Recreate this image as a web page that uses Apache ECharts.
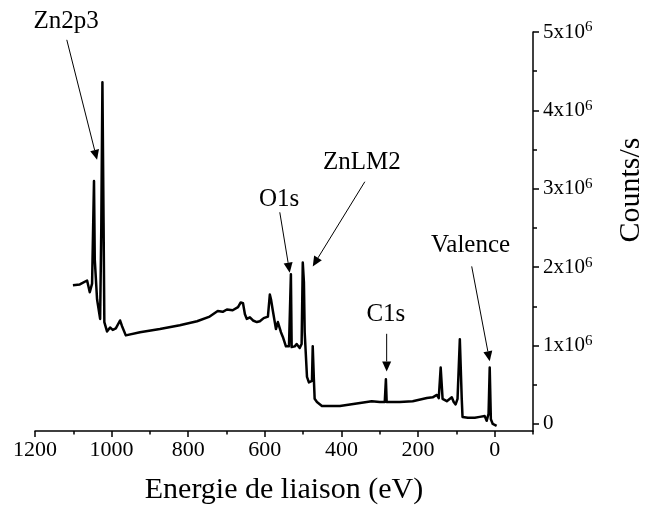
<!DOCTYPE html>
<html><head><meta charset="utf-8">
<script src="https://cdn.jsdelivr.net/npm/echarts@6/dist/echarts.min.js"></script>
<style>html,body{margin:0;padding:0;background:#fff}#c{width:652px;height:513px}</style>
</head><body><div id="c"></div>
<script>
// Binding energy (eV)
const energy = [1101,1083,1064,1057,1051,1046,1044,1038,1030,1027,1024,1021,1019,1012,1004,997,989,978,973,963,926,874,822,777,744,723,710,699,684,670,663,657,652,647,639,631,621,613,603,592,587,584,579,571,566,558,553,545,540,537,532,530,522,517,509,504,501,498,496,490,485,477,475,472,470,464,451,404,334,321,300,287,284,282,248,214,177,162,151,146,141,136,125,112,107,102,97,91,86,84,70,52,39,26,21,16,13,10,5,0,-5];
// Counts/s in units of 1e6
const countsM = [1.77,1.78,1.83,1.68,1.79,3.10,2.10,1.59,1.34,2.48,4.36,2.57,1.30,1.18,1.23,1.20,1.22,1.32,1.25,1.13,1.17,1.21,1.26,1.31,1.37,1.44,1.43,1.46,1.45,1.49,1.55,1.54,1.40,1.34,1.36,1.32,1.30,1.31,1.35,1.37,1.65,1.59,1.44,1.21,1.30,1.17,1.11,0.99,0.97,0.99,1.91,0.98,0.99,1.02,0.97,1.02,2.06,1.81,1.17,0.60,0.53,0.55,0.99,0.57,0.32,0.28,0.23,0.23,0.28,0.29,0.28,0.28,0.57,0.28,0.28,0.29,0.33,0.34,0.37,0.33,0.72,0.32,0.29,0.34,0.28,0.25,0.32,1.08,0.32,0.09,0.08,0.08,0.09,0.10,0.04,0.13,0.72,0.06,0.00,-0.01,-0.025];
const xMajorTicks = [0,200,400,600,800,1000,1200];
const xMinorTicks = [-100,100,300,500,700,900,1100];
const yMajorTicks = [0,1e6,2e6,3e6,4e6,5e6];
const yMinorTicks = [0.5e6,1.5e6,2.5e6,3.5e6,4.5e6];
const xTitle = 'Energie de liaison (eV)';
const yTitle = 'Counts/s';
// annotation labels: text anchor, arrow start, arrow tip (data coords: eV, counts)
const annLabels = ['Zn2p3','O1s','ZnLM2','C1s','Valence'];
const annText = [[1119,5.13e6],[563,2.86e6],[347,3.33e6],[284,1.40e6],[63,2.28e6]];
const annFrom = [[1117,4.90e6],[561,2.70e6],[339,3.09e6],[282,1.15e6],[60,2.01e6]];
const annTo   = [[1038,3.37e6],[535,1.93e6],[475,2.01e6],[282,0.67e6],[13,0.80e6]];

const FONT = '"Liberation Serif", "DejaVu Serif", serif';
const seriesData = energy.map((e,i)=>[e, countsM[i]*1e6]);

const chart = echarts.init(document.getElementById('c'));
const option = {
  animation:false,
  backgroundColor:'#fff',
  grid:{left:35,right:119,top:32,bottom:82,containLabel:false},
  xAxis:[{
    type:'value', min:-100, max:1200, inverse:true, position:'bottom',
    axisLine:{onZero:false,lineStyle:{color:'#000',width:1.5}},
    axisTick:{show:true,inside:false,length:6,customValues:xMajorTicks,lineStyle:{color:'#000',width:1.5}},
    axisLabel:{customValues:xMajorTicks,margin:8,color:'#000',fontFamily:FONT,fontSize:22,formatter:v=>String(v)},
    splitLine:{show:false},
    name:xTitle,nameLocation:'middle',nameGap:44,
    nameTextStyle:{color:'#000',fontFamily:FONT,fontSize:30}
  },{
    type:'value', min:-100, max:1200, inverse:true, position:'bottom',
    axisLine:{show:false,onZero:false},
    axisTick:{show:true,length:3.5,customValues:xMinorTicks,lineStyle:{color:'#000',width:1.5}},
    axisLabel:{show:false},splitLine:{show:false}
  }],
  yAxis:[{
    type:'value', min:-0.09e6, max:5e6, position:'right',
    axisLine:{onZero:false,lineStyle:{color:'#000',width:1.5}},
    axisTick:{show:true,length:6,customValues:yMajorTicks,lineStyle:{color:'#000',width:1.5}},
    axisLabel:{customValues:yMajorTicks,margin:10,color:'#000',fontFamily:FONT,fontSize:21,
      formatter:v=> v===0 ? '{b|0}' : '{b|'+Math.round(v/1e6)+'x10}{s|6}',
      rich:{b:{fontFamily:FONT,fontSize:21,color:'#000',lineHeight:24},
            s:{fontFamily:FONT,fontSize:15,color:'#000',lineHeight:15,verticalAlign:'top'}}},
    splitLine:{show:false}
  },{
    type:'value', min:-0.09e6, max:5e6, position:'right',
    axisLine:{show:false,onZero:false},
    axisTick:{show:true,length:4,customValues:yMinorTicks,lineStyle:{color:'#000',width:1.5}},
    axisLabel:{show:false},splitLine:{show:false}
  }],
  series:[{
    type:'line', data:seriesData, xAxisIndex:0, yAxisIndex:0,
    showSymbol:false, symbol:'none', clip:false,
    lineStyle:{color:'#000',width:2.5,join:'round'}
  }]
};
chart.setOption(option);

const elems = [];
annLabels.forEach((label,i)=>{
  const t = chart.convertToPixel({seriesIndex:0}, annText[i]);
  const a = chart.convertToPixel({seriesIndex:0}, annFrom[i]);
  const b = chart.convertToPixel({seriesIndex:0}, annTo[i]);
  const dx=b[0]-a[0], dy=b[1]-a[1], L=Math.hypot(dx,dy), ux=dx/L, uy=dy/L;
  const hl=10, hw=4.5;
  const bx=b[0]-ux*hl, by=b[1]-uy*hl;
  elems.push({type:'line',shape:{x1:a[0],y1:a[1],x2:bx,y2:by},style:{stroke:'#000',lineWidth:1},silent:true});
  elems.push({type:'polygon',shape:{points:[[b[0],b[1]],[bx-uy*hw,by+ux*hw],[bx+uy*hw,by-ux*hw]]},style:{fill:'#000'},silent:true});
  elems.push({type:'text',x:t[0],y:t[1],style:{text:label,fill:'#000',font:'25px '+FONT,
    textAlign:'center',textVerticalAlign:'middle',align:'center',verticalAlign:'middle'},silent:true});
});
elems.push({type:'text',x:631,y:190,rotation:Math.PI/2,style:{text:yTitle,fill:'#000',font:'30px '+FONT,
  textAlign:'center',textVerticalAlign:'middle',align:'center',verticalAlign:'middle'},silent:true});
chart.setOption({graphic:{elements:elems}});
</script></body></html>
